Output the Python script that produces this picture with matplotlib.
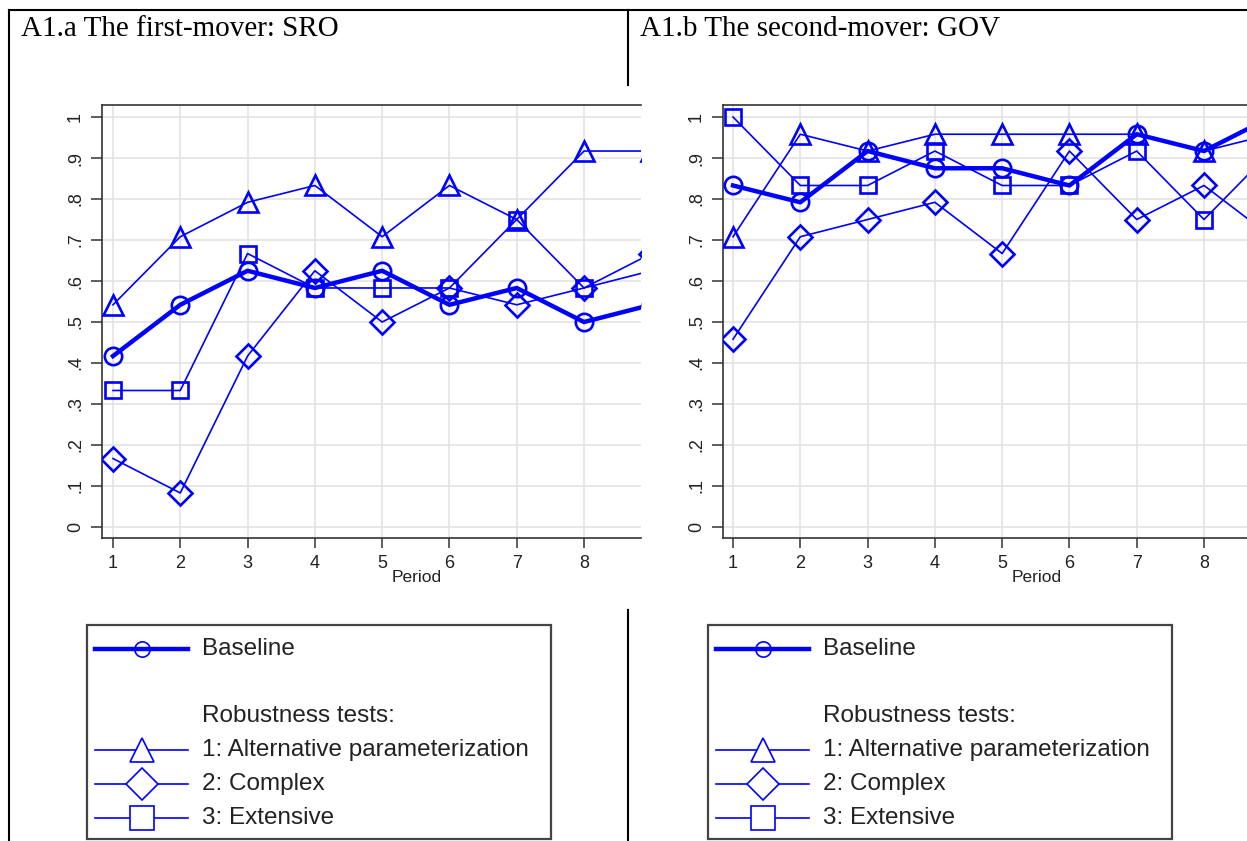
import matplotlib
matplotlib.use("Agg")
import matplotlib.pyplot as plt
from matplotlib.lines import Line2D
from matplotlib.transforms import blended_transform_factory

# ---------------- data ----------------
periods = [1, 2, 3, 4, 5, 6, 7, 8, 9]

sro_baseline = [0.417, 0.542, 0.625, 0.583, 0.625, 0.542, 0.583, 0.500, 0.542]
sro_alt      = [0.542, 0.708, 0.792, 0.833, 0.708, 0.833, 0.750, 0.917, 0.917]
sro_complex  = [0.167, 0.083, 0.417, 0.625, 0.500, 0.583, 0.542, 0.583, 0.667]
sro_extens   = [0.333, 0.333, 0.667, 0.583, 0.583, 0.583, 0.750, 0.583, 0.625]

gov_baseline = [0.833, 0.792, 0.917, 0.875, 0.875, 0.833, 0.958, 0.917, 1.000]
gov_alt      = [0.708, 0.958, 0.917, 0.958, 0.958, 0.958, 0.958, 0.917, 0.958]
gov_complex  = [0.458, 0.708, 0.750, 0.792, 0.667, 0.917, 0.750, 0.833, 0.708]
gov_extens   = [1.000, 0.833, 0.833, 0.917, 0.833, 0.833, 0.917, 0.750, 0.917]

yticks = [0, 0.1, 0.2, 0.3, 0.4, 0.5, 0.6, 0.7, 0.8, 0.9, 1.0]
ytick_labels = ["0", ".1", ".2", ".3", ".4", ".5", ".6", ".7", ".8", ".9", "1"]
xticks = [1, 2, 3, 4, 5, 6, 7, 8]

titles = ["A1.a The first-mover: SRO", "A1.b The second-mover: GOV"]
legend_labels = ["Baseline", "Robustness tests:", "1: Alternative parameterization",
                 "2: Complex", "3: Extensive"]

# ---------------- style ----------------
BLUE = "#0000ff"
SANS = "Liberation Sans"
SERIF = "Liberation Serif"
W, H = 1247, 841

fig = plt.figure(figsize=(W / 100, H / 100), dpi=100)
fig.patch.set_facecolor("white")

bg = fig.add_axes([0, 0, 1, 1])
bg.set_xlim(0, W)
bg.set_ylim(H, 0)
bg.axis("off")

# table borders
bg.plot([9, W], [10, 10], color="black", lw=1.5)
bg.plot([9, 9], [10, H], color="black", lw=1.5)
bg.plot([628, 628], [10, 85], color="black", lw=1.5)
bg.plot([628, 628], [610, H], color="black", lw=1.5)

bg.text(21, 29, titles[0], family=SERIF, fontsize=21, color="black", va="center", ha="left")
bg.text(640, 29, titles[1], family=SERIF, fontsize=21, color="black", va="center", ha="left")


def px_axes(left, top, right, bottom):
    return fig.add_axes([left / W, 1 - bottom / H, (right - left) / W, (bottom - top) / H])


def style_axes(ax, xmin, xmax):
    ax.set_xlim(xmin, xmax)
    ax.set_ylim(-0.0268, 1.0293)
    ax.set_yticks(yticks)
    ax.set_yticklabels(ytick_labels, rotation=90, va="center", family=SANS, fontsize=13, color="#222222")
    ax.set_xticks(xticks)
    ax.set_xticklabels([str(x) for x in xticks], family=SANS, fontsize=13, color="#222222")
    ax.tick_params(axis="y", direction="out", length=8, width=1.1, color="#333333", pad=5)
    ax.tick_params(axis="x", direction="out", length=7, width=1.1, color="#333333", pad=5)
    ax.grid(True, color="#e3e3e3", lw=1.2, zorder=0)
    ax.set_axisbelow(True)
    for s in ["left", "bottom", "top"]:
        ax.spines[s].set_color("#333333")
        ax.spines[s].set_linewidth(1.2)
    ax.spines["right"].set_visible(False)
    tr = blended_transform_factory(ax.transData, ax.transAxes)
    ax.text(5.52, -0.092, "Period", transform=tr, ha="center", va="center",
            family=SANS, fontsize=12.5, color="#222222")


def draw_series(ax, base, alt, comp, ext):
    mk = dict(mfc="none", mec=BLUE, mew=1.9, color=BLUE)
    ax.plot(periods, alt, marker="^", ms=14, lw=1.2, zorder=3, **mk)
    ax.plot(periods, comp, marker="D", ms=12, lw=1.2, zorder=3, **mk)
    ax.plot(periods, ext, marker="s", ms=12, lw=1.2, zorder=3, **mk)
    ax.plot(periods, base, marker="o", ms=12.5, lw=3.2, zorder=4, **mk)


ax1 = px_axes(102, 105, 641, 538)
style_axes(ax1, 0.8365, 8.847)
draw_series(ax1, sro_baseline, sro_alt, sro_complex, sro_extens)

ax2 = px_axes(723, 105, 1247, 538)
style_axes(ax2, 0.851, 8.639)
draw_series(ax2, gov_baseline, gov_alt, gov_complex, gov_extens)


# ---------------- legends (drawn in pixel space) ----------------
def draw_legend(off):
    bg.add_patch(plt.Rectangle((87 + off, 625), 464, 214, fill=False, ec="#444444", lw=1.6))
    rows = [649, 716, 750, 784, 818]
    x0, x1, xm = 95 + off, 188 + off, 142 + off
    # baseline
    bg.add_line(Line2D([x0, x1], [rows[0], rows[0]], color=BLUE, lw=3.2))
    bg.add_line(Line2D([xm], [rows[0]], marker="o", ms=11, mfc="none", mec=BLUE, mew=1.2, lw=0))
    specs = [(2, "^", 17), (3, "D", 16.5), (4, "s", 17)]
    for r, m, s in specs:
        bg.add_line(Line2D([x0, x1], [rows[r], rows[r]], color=BLUE, lw=1.2))
        bg.add_line(Line2D([xm], [rows[r]], marker=m, ms=s, mfc="white", mec=BLUE, mew=1.2, lw=0))
    for r, lab in zip(rows, legend_labels):
        bg.text(202 + off, r, lab, family=SANS, fontsize=17.5, color="#222222", va="center", ha="left")


draw_legend(0)
draw_legend(621)

fig.savefig("out.png", dpi=100, facecolor="white")
